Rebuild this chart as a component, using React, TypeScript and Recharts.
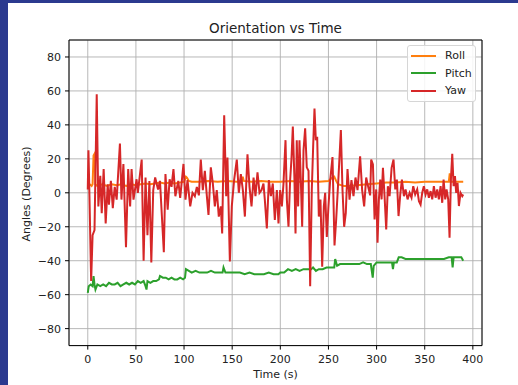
import { LineChart, Line, XAxis, YAxis, CartesianGrid, Legend, ReferenceArea } from 'recharts'

const FONT = '"DejaVu Sans", sans-serif'
const TEXT = '#222'

const X_TICKS = [0, 50, 100, 150, 200, 250, 300, 350, 400]
const Y_TICKS = [-80, -60, -40, -20, 0, 20, 40, 60, 80]

// time (s) and angle (deg)
const ROLL_T = [0, 2, 4, 5, 6, 7, 8, 10, 15, 20, 25, 30, 35, 40, 45, 50, 55, 60, 65, 70,
  75, 80, 85, 90, 95, 100, 102, 103, 105, 108, 115, 125, 135, 145, 155, 160, 161, 162, 170, 180,
  190, 200, 210, 220, 230, 240, 250, 254, 256, 258, 260, 263, 266, 270, 280, 290, 300, 310, 320, 330,
  340, 350, 360, 370, 375, 376, 377, 380, 390]
const ROLL_DEG = [4, 5, 4, 5, 22, 23, 5, 4, 5, 4, 5, 4.5, 5, 4, 5, 4.5, 5, 5.5, 5, 5.5,
  6, 5.5, 6, 5.5, 6, 6.5, 9.5, 9, 7, 6.5, 6.5, 7, 6.5, 7, 6.5, 7, 9.5, 7, 6.5, 7,
  6.5, 6.5, 7, 6.5, 7, 6.5, 7, 9, 9.5, 7, 5, 4.5, 4, 4, 4.5, 5, 5.5, 6, 6, 6.5,
  6, 6.5, 6.5, 6.5, 6.5, 11.5, 6.5, 6.5, 6.5]

const PITCH_T = [0, 1, 3, 5, 6, 7, 8, 10, 13, 16, 19, 22, 25, 28, 31, 34, 37, 40, 43, 46,
  49, 52, 55, 58, 60, 61, 62, 65, 68, 71, 74, 75, 78, 81, 84, 87, 90, 93, 96, 99,
  101, 102, 105, 108, 112, 116, 120, 124, 128, 132, 136, 140, 141, 143, 148, 153, 158, 163, 168, 173,
  178, 183, 188, 193, 198, 200, 204, 208, 212, 216, 220, 224, 228, 232, 234, 237, 240, 244, 248, 252,
  256, 257, 259, 262, 266, 270, 274, 278, 282, 286, 290, 294, 296, 297, 300, 304, 308, 312, 316, 317,
  318, 321, 323, 326, 330, 335, 340, 345, 350, 355, 360, 365, 370, 375, 378, 379, 380, 384, 388, 390]
const PITCH_DEG = [-59, -55, -54, -55, -49, -54, -57, -54, -55, -54, -55, -53, -54, -54, -53, -55, -54, -53, -54, -53,
  -54, -52, -53, -52, -55, -57, -52, -53, -52, -52, -51, -49, -50, -50, -51, -50, -51, -51, -50, -51,
  -50, -45, -46, -47, -46, -47, -47, -47, -46, -47, -47, -47, -44, -47, -47, -47, -47, -48, -47, -48,
  -48, -48, -47, -48, -48, -47, -47, -45, -46, -45, -46, -45, -45, -45, -44, -46, -45, -45, -44, -44,
  -44, -39, -43, -42, -42, -42, -42, -42, -42, -41, -42, -42, -50, -43, -41, -41, -41, -41, -41, -45,
  -41, -41, -38, -38, -39, -39, -39, -39, -39, -39, -39, -39, -39, -38, -38, -44, -38, -38, -38, -40]

const YAW_T = [
  0, 0.7, 1.5, 3.5, 5, 7, 9.3, 11, 13, 14.5, 16.5, 18.6, 20.7, 22, 24, 26, 28, 30, 33.4, 35,
  37, 39.7, 42, 44, 45.5, 47.5, 50.7, 52, 56, 58, 60, 62, 64, 66, 68, 70, 73, 75, 77, 79,
  80.7, 83, 85, 87, 89, 91, 94, 96,
  99.4, 101.5, 103.6, 106.4, 108.8, 111.2, 113.3, 115.4, 117.4, 119.5, 121.6, 123.7, 125.4, 127.8, 129.9, 132, 134, 136.1, 138.2, 139.6,
  141.7, 143.8, 145.1, 147.6, 149.6, 152, 154.8, 156.9, 159, 161.1, 163.2, 165.9, 168, 170.1, 172.2, 174.2, 176.3, 178.4, 180.5, 182.5,
  183.9, 186, 188.1, 190.2, 192.2, 194.3, 196.4,
  198.1, 199.8, 201.6, 203.3, 205.4, 206.8, 208.5, 210.2, 211.6, 213, 214.7, 215.8, 217.1, 218.5, 219.9, 221.3, 222.7, 224.1, 225.8, 227.5,
  229.3, 231, 232.7, 234.1, 235.5, 236.9, 238.3, 240, 241.7, 243.5, 245.2, 246.6, 248.3, 250, 251.8, 254.2, 256.3, 258, 260.4, 262.9,
  264.6, 266.3, 268, 269.8, 271.9, 273.9, 276, 278.1, 280.2, 282.9, 285, 287.1, 289.2, 291.3, 293.3,
  294.4, 296.2, 297.9, 299.6, 301, 302.4, 303.8, 305.2, 306.6, 308.3, 310, 311.7, 313.5, 315.6, 317.6, 319.4, 321.1, 322.8, 324.6, 326.3,
  328.4, 330.1, 332.2, 334.3, 336.3, 338.1, 340.1, 342.2, 344, 345.7, 347.4, 349.1, 350.9, 352.6, 354.3, 356.1, 357.8, 359.5, 361.3, 363,
  364.7, 366.5, 368.2, 369.6, 371.3, 372.7, 374.4, 375.8, 377.2, 378.6, 380, 381.4, 382.7, 384.1, 385.5, 387.2, 389, 390]
const YAW_DEG = [
  2, 25, 5, -52, -25, -22, 58, -8, 10, -12, 14, -18, 5, -7, 7, -9, 3.5, -4, 29, -4,
  17, -32, 14, -8, 14, -4, 8, 0, 19.6, -40, 9, -25, 7, -41, 1.6, 9, 2, 7, -14, -35,
  11, -10, 8, 3.5, 14, -2, 7, -3,
  17, -4, 7.5, -8, 0, -2, 3.5, -1.5, 19.6, 1.6, 13, -2, -13, 15, 5.5, -8, 1.6, -14, -8, -24,
  45.6, -2, 20.8, -40.5, -8, 7.5, 19.6, 0, 11, 1.6, -14, 22.7, 3.5, -8, 9, -2, 12, 0, 1.6, 5.5,
  -4, -21, 7.5, -2, 5.5, -16, 1.6,
  -18, 1.6, -8, 5.5, 31, -4, -20, 7.5, 20, 39, 7.5, -24, 31, -8, 31, 7.5, -20, 25, 38, 15,
  13, -55, 1.6, 27, 49.6, 31, 33, -14, -4, -43.5, -8, 0, -26, -8, 7.5, 21, -31, -16, 9, 37,
  1.6, -20, -12, 14, -4, 7.5, -2, 9, 1.6, 21.5, 1.6, -8, 9, 3.5, -1.5,
  19.6, 16.7, -15.7, 2, -29.4, -3.9, 7.8, -3.9, 14.7, -2, -21.6, 3.9, -2, 14.7, 19.6, 2, 7.8, -13.7, -1, 7.8,
  -2, 2, -3.9, 0, -2.9, 3.9, -1, 2, -4.9, -6.9, 0, 3.9, -1, 2, -2.9, 1, -3.9, 3.9, -2.9, 2,
  -3.9, 3.9, -5.9, 7.8, -3.9, 2, -3.9, -26.5, 7.8, 23, 3.9, 9.8, 0, 5.9, -7.8, 0, -2, -1]

const toPoints = (ts: number[], vs: number[]) => ts.map((t, i) => ({ t, deg: vs[i] }))

const SERIES = [
  { name: 'Roll', color: '#ff7f0e', data: toPoints(ROLL_T, ROLL_DEG) },
  { name: 'Pitch', color: '#2ca02c', data: toPoints(PITCH_T, PITCH_DEG) },
  { name: 'Yaw', color: '#d62728', data: toPoints(YAW_T, YAW_DEG) },
]

const fmtMinus = (v: number) => String(v).replace('-', '\u2212')

function LegendBox() {
  return (
    <div style={{ width: 69, height: 57, boxSizing: 'border-box', border: '1px solid #d6d6d6', borderRadius: 3, background: 'rgba(255,255,255,0.85)', paddingTop: 1, fontFamily: FONT }}>
      {SERIES.map(s => (
        <div key={s.name} style={{ display: 'flex', alignItems: 'center', height: 17.6 }}>
          <span style={{ marginLeft: 3, width: 25, height: 0, borderTop: `2px solid ${s.color}` }} />
          <span style={{ marginLeft: 9, fontSize: 11, color: TEXT, lineHeight: '17.6px' }}>{s.name}</span>
        </div>
      ))}
    </div>
  )
}

const tickStyle = { fontSize: 11, fill: TEXT, fontFamily: FONT }

export default function App() {
  return (
    <div style={{ position: 'relative', width: 518, height: 385, background: '#fff', overflow: 'hidden' }}>
      <style>{'body{margin:0}'}</style>
      <div style={{ position: 'absolute', left: 0, top: 0, width: 8, height: 385, background: '#2b3a8f' }} />
      <div style={{ position: 'absolute', left: 0, top: 0, width: 518, height: 3, background: '#2b3a8f' }} />
      <div style={{ position: 'absolute', left: 69, top: 19, width: 413, textAlign: 'center', fontFamily: FONT, fontSize: 13.5, color: TEXT, lineHeight: '18px' }}>
        Orientation vs Time
      </div>
      <div style={{ position: 'absolute', left: 26, top: 194, transform: 'translate(-50%, -50%) rotate(-90deg)', whiteSpace: 'nowrap', fontFamily: FONT, fontSize: 11, color: TEXT }}>
        Angles (Degrees)
      </div>
      <div style={{ position: 'absolute', left: 69, top: 368, width: 413, textAlign: 'center', fontFamily: FONT, fontSize: 11, color: TEXT, lineHeight: '14px' }}>
        Time (s)
      </div>
      <div style={{ position: 'absolute', left: 0, top: 0 }}>
        <LineChart width={518} height={385} margin={{ top: 40, right: 36, bottom: 0, left: 0 }}>
          <CartesianGrid stroke="#b0b0b0" strokeWidth={0.9} />
          <XAxis dataKey="t" type="number" domain={[-19.5, 409.5]} ticks={X_TICKS} allowDataOverflow
            height={39.4} axisLine={false} tickSize={4} tickMargin={6} tickLine={{ stroke: '#000' }} tick={tickStyle} />
          <YAxis type="number" domain={[-90, 90]} ticks={Y_TICKS} allowDataOverflow width={69}
            axisLine={false} tickSize={4} tickMargin={4} tickLine={{ stroke: '#000' }} tick={tickStyle} tickFormatter={fmtMinus} />
          {SERIES.map(s => (
            <Line key={s.name} data={s.data} dataKey="deg" name={s.name} type="linear" stroke={s.color}
              strokeWidth={2} dot={false} activeDot={false} isAnimationActive={false} />
          ))}
          <ReferenceArea x1={-19.5} x2={409.5} y1={-90} y2={90} fill="none" stroke="#000" strokeWidth={1} ifOverflow="visible" />
          <Legend layout="vertical" align="center" verticalAlign="middle" content={<LegendBox />}
            wrapperStyle={{ left: 407, top: 45, width: 69, height: 57 }} />
        </LineChart>
      </div>
    </div>
  )
}
